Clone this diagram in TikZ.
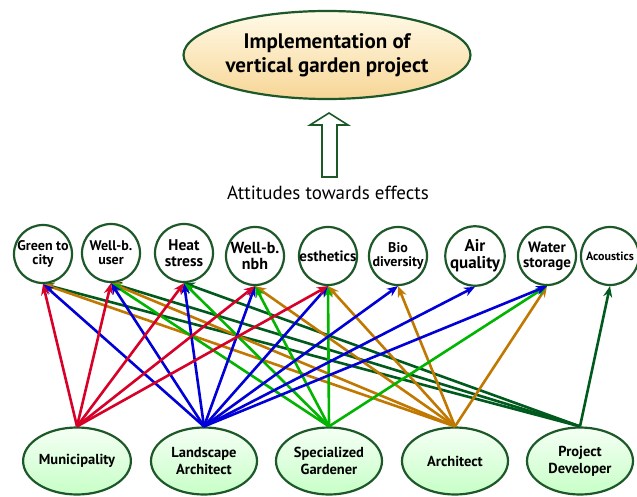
\documentclass[tikz,border=0pt]{standalone}
\usepackage{fontspec}
\setmainfont{PT Sans}
\usetikzlibrary{arrows.meta,shapes.geometric}
\definecolor{dg}{RGB}{28,88,40}
\definecolor{cred}{RGB}{214,0,40}
\definecolor{cblue}{RGB}{0,0,215}
\definecolor{cgreen}{RGB}{0,180,0}
\definecolor{corange}{RGB}{192,120,0}
\definecolor{cdark}{RGB}{0,90,30}
\newcommand{\fsz}[1]{\bfseries\fontsize{#1}{#1}\selectfont}
\tikzset{
  eff/.style={circle, draw=dg, line width=2.2pt, fill=white, minimum size=58pt, inner sep=0pt, align=center, font=\fsz{13.5}},
  actor/.style={ellipse, draw=dg, line width=2.2pt, top color=green!4!white, bottom color=green!22!white, minimum width=106pt, minimum height=67pt, inner sep=0pt, align=center, font=\bfseries\fontsize{14.5}{17}\selectfont},
  goalell/.style={ellipse, draw=dg, line width=2.2pt, top color={rgb,255:red,255;green,250;blue,232}, bottom color={rgb,255:red,247;green,214;blue,150}, minimum width=240pt, minimum height=88pt, inner sep=0pt, align=center, font=\bfseries\fontsize{21}{24}\selectfont},
  lnk/.style={line width=2.6pt, -{Stealth[length=11pt,width=9pt]}},
}
\begin{document}
\begin{tikzpicture}[x=1pt,y=-1pt]
\useasboundingbox (0,0) rectangle (637,497);
\node[goalell] (goal) at (327,55) {Implementation of\\vertical garden project};
\node[font=\fontsize{19}{22}\selectfont] (att) at (328,193) {Attitudes towards effects};
\draw[dg, line width=1.6pt, fill=white] (322,177) -- (322,125) -- (310,125) -- (329,113) -- (348,125) -- (337,125) -- (337,177) -- cycle;

\node[eff, font=\fsz{14}] (c1) at (43,254) {Green to\\city};
\node[eff, font=\fsz{14}] (c2) at (111,253) {Well-b.\\user};
\node[eff, font=\fsz{15.5}] (c3) at (184,253) {Heat\\stress};
\node[eff, font=\fsz{16}] (c4) at (255,256) {Well-b.\\nbh};
\node[eff, font=\fsz{15}] (c5) at (328,256) {esthetics};
\node[eff, font=\fsz{14}] (c6) at (398,256) {Bio\\diversity};
\node[eff, font=\fsz{17}] (c7) at (475,256) {Air\\quality};
\node[eff, font=\fsz{15}] (c8) at (547,256) {Water\\storage};
\node[eff, font=\fsz{12}] (c9) at (610,256) {Acoustics};

\node[actor] (a1) at (77,461) {Municipality};
\node[actor] (a2) at (204,461) {Landscape\\Architect};
\node[actor] (a3) at (329,461) {Specialized\\Gardener};
\node[actor] (a4) at (455,461) {Architect};
\node[actor] (a5) at (580,461) {Project\\Developer};

% Project developer
\foreach \t in {c1,c2,c3,c9} \draw[lnk, cdark] (a5.north) -- (\t.south);
% Architect
\foreach \t in {c1,c2,c4,c5,c6,c8} \draw[lnk, corange] (a4.north) -- (\t.south);
% Specialized gardener
\foreach \t in {c2,c3,c4,c5,c8} \draw[lnk, cgreen] (a3.north) -- (\t.south);
% Landscape architect
\foreach \t in {c1,c2,c3,c4,c5,c6,c7,c8} \draw[lnk, cblue] (a2.north) -- (\t.south);
% Municipality
\foreach \t in {c1,c2,c3,c4,c5} \draw[lnk, cred] (a1.north) -- (\t.south);
\end{tikzpicture}
\end{document}
